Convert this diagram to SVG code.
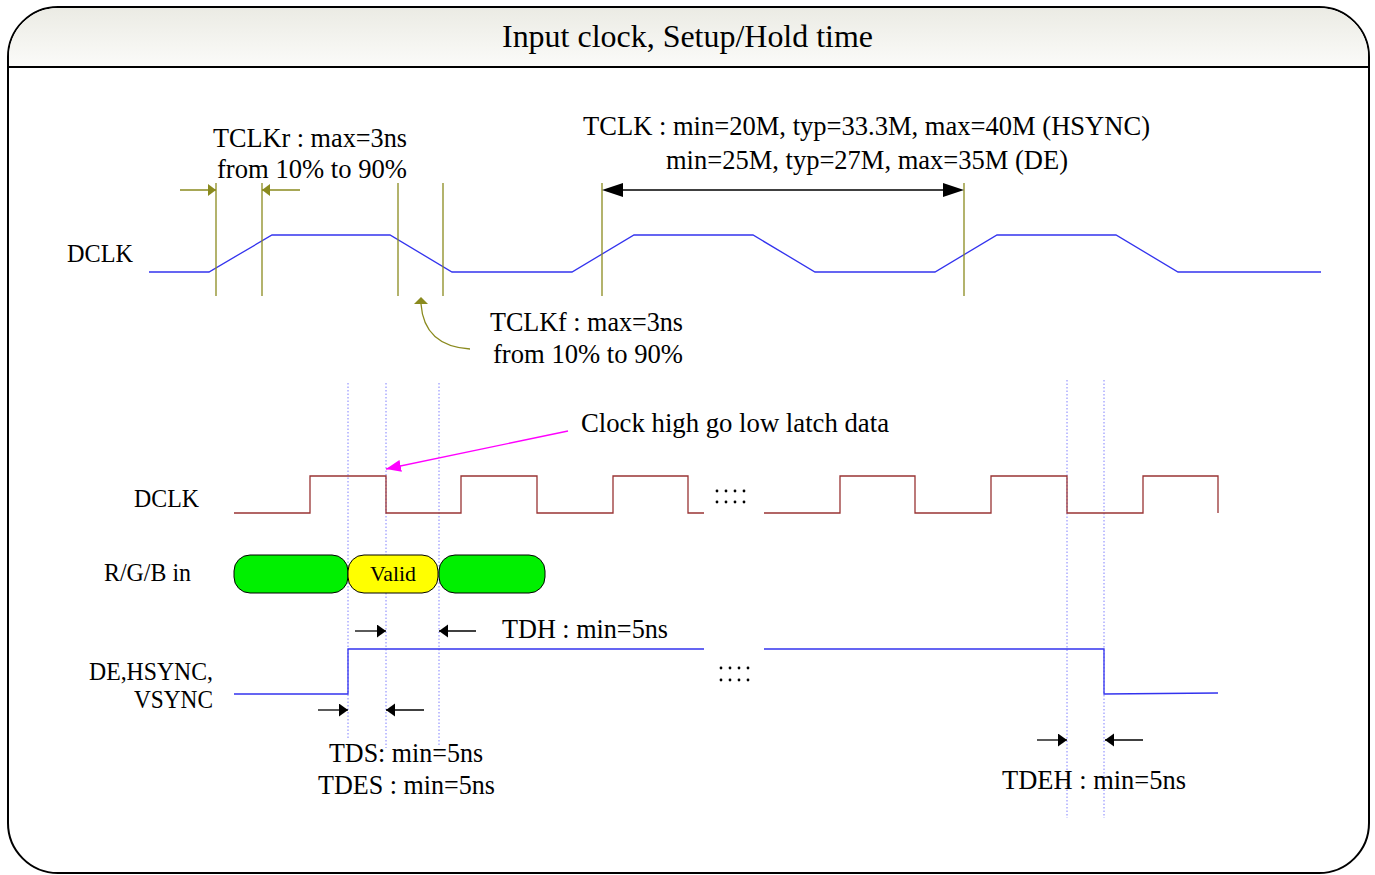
<svg xmlns="http://www.w3.org/2000/svg" width="1375" height="875" viewBox="0 0 1375 875">
<style>
text{font-family:"Liberation Serif","Times New Roman",serif;fill:#000}
.t26{font-size:27.5px}
.t24{font-size:25px}
.olive{stroke:#8a8a1e;stroke-width:1.3;fill:none}
.blue{stroke:#3333ee;stroke-width:1.3;fill:none}
.brown{stroke:#993333;stroke-width:1.3;fill:none}
.dot{stroke:#8080ff;stroke-width:1;stroke-dasharray:1.5 2;fill:none}
.blk{stroke:#000;stroke-width:1.3;fill:none}
</style>
<defs>
<linearGradient id="tb" x1="0" y1="0" x2="0" y2="1">
<stop offset="0" stop-color="#ebebe4"/>
<stop offset="1" stop-color="#fbfbf9"/>
</linearGradient>
<marker id="ah" markerUnits="userSpaceOnUse" markerWidth="10" markerHeight="14" refX="9" refY="6.5" orient="auto">
<path d="M0,0 L9,6.5 L0,13 z" fill="#000"/>
</marker>
<marker id="oh" markerUnits="userSpaceOnUse" markerWidth="9" markerHeight="13" refX="8" refY="6" orient="auto">
<path d="M0,0 L8,6 L0,12 z" fill="#8a8a1e"/>
</marker>
<marker id="mh" markerUnits="userSpaceOnUse" markerWidth="16" markerHeight="13" refX="15" refY="6" orient="auto">
<path d="M0,0 L15,6 L0,12 z" fill="#ff00ff"/>
</marker>
</defs>

<g id="frame">
<rect x="8" y="7" width="1361" height="866" rx="50" ry="50" fill="#fff" stroke="#000" stroke-width="2"/>
<path d="M9,67 V57 A49,49 0 0 1 58,8 H1319 A49,49 0 0 1 1368,57 V67 Z" fill="url(#tb)"/>
<line x1="8" y1="67" x2="1369" y2="67" stroke="#000" stroke-width="2"/>
<text x="502" y="47" font-size="31" textLength="371" lengthAdjust="spacingAndGlyphs">Input clock, Setup/Hold time</text>
</g>

<g id="top-dclk">
<text class="t24" x="67" y="262" textLength="66" lengthAdjust="spacingAndGlyphs">DCLK</text>
<polyline class="blue" points="149,272 209,272 272,235 390,235 452,272 572,272 634,235 753,235 815,272 935,272 997,235 1116,235 1178,272 1321,272"/>
</g>

<g id="connectors">
<g id="olive-marks">
<line class="olive" x1="216" y1="183" x2="216" y2="296"/>
<line class="olive" x1="262" y1="183" x2="262" y2="296"/>
<line class="olive" x1="398" y1="183" x2="398" y2="296"/>
<line class="olive" x1="443" y1="183" x2="443" y2="296"/>
<line class="olive" x1="602" y1="183" x2="602" y2="296"/>
<line class="olive" x1="964" y1="183" x2="964" y2="296"/>
<line class="olive" x1="180" y1="190" x2="216" y2="190" marker-end="url(#oh)"/>
<line class="olive" x1="300" y1="190" x2="262" y2="190" marker-end="url(#oh)"/>
<path class="olive" d="M470,349 Q424,346 421,304"/>
<polygon points="421,297 414,304 428,304" fill="#8a8a1e"/>
</g>
<g id="tclk-arrow">
<line x1="620" y1="190" x2="946" y2="190" stroke="#000" stroke-width="1.3"/>
<polygon points="602,190 623,183 623,197" fill="#000"/>
<polygon points="964,190 943,183 943,197" fill="#000"/>
</g>
<g id="dotted-guides">
<line class="dot" x1="348" y1="383" x2="348" y2="740"/>
<line class="dot" x1="386" y1="383" x2="386" y2="748"/>
<line class="dot" x1="439" y1="383" x2="439" y2="745"/>
<line class="dot" x1="1067" y1="380" x2="1067" y2="818"/>
<line class="dot" x1="1104" y1="380" x2="1104" y2="818"/>
</g>
<g id="latch-arrow">
<line x1="568" y1="431" x2="386" y2="469" stroke="#ff00ff" stroke-width="1.3" marker-end="url(#mh)"/>
</g>
<g id="small-arrows">
<line class="blk" x1="355" y1="631" x2="386" y2="631" marker-end="url(#ah)"/>
<line class="blk" x1="476" y1="631" x2="439" y2="631" marker-end="url(#ah)"/>
<line class="blk" x1="318" y1="710" x2="348" y2="710" marker-end="url(#ah)"/>
<line class="blk" x1="424" y1="710" x2="386" y2="710" marker-end="url(#ah)"/>
<line class="blk" x1="1037" y1="740" x2="1067" y2="740" marker-end="url(#ah)"/>
<line class="blk" x1="1143" y1="740" x2="1105" y2="740" marker-end="url(#ah)"/>
</g>
</g>

<g id="tclkr-label">
<text class="t26" x="213" y="147" textLength="194" lengthAdjust="spacingAndGlyphs">TCLKr : max=3ns</text>
<text class="t26" x="217" y="178" textLength="190" lengthAdjust="spacingAndGlyphs">from 10% to 90%</text>
</g>
<g id="tclkf-label">
<text class="t26" x="490" y="331" textLength="193" lengthAdjust="spacingAndGlyphs">TCLKf : max=3ns</text>
<text class="t26" x="493" y="363" textLength="190" lengthAdjust="spacingAndGlyphs">from 10% to 90%</text>
</g>
<g id="tclk-label">
<text class="t26" x="583" y="135" textLength="567" lengthAdjust="spacingAndGlyphs">TCLK : min=20M, typ=33.3M, max=40M (HSYNC)</text>
<text class="t26" x="666" y="169" textLength="402" lengthAdjust="spacingAndGlyphs">min=25M, typ=27M, max=35M (DE)</text>
</g>

<g id="latch-label">
<text class="t26" x="581" y="432" textLength="308" lengthAdjust="spacingAndGlyphs">Clock high go low latch data</text>
</g>

<g id="bottom-dclk">
<text class="t24" x="134" y="507" textLength="65" lengthAdjust="spacingAndGlyphs">DCLK</text>
<polyline class="brown" points="234,513 310,513 310,476 386,476 386,513 461,513 461,476 537,476 537,513 613,513 613,476 688,476 688,513 704,513"/>
<polyline class="brown" points="764,513 840,513 840,476 915,476 915,513 991,513 991,476 1067,476 1067,513 1143,513 1143,476 1218,476 1218,513"/>
<g fill="#000">
<circle cx="717" cy="491" r="1.4"/><circle cx="726" cy="491" r="1.4"/><circle cx="735" cy="491" r="1.4"/><circle cx="744" cy="491" r="1.4"/>
<circle cx="717" cy="502" r="1.4"/><circle cx="726" cy="502" r="1.4"/><circle cx="735" cy="502" r="1.4"/><circle cx="744" cy="502" r="1.4"/>
</g>
</g>

<g id="rgb-in">
<text class="t24" x="104" y="581" textLength="87" lengthAdjust="spacingAndGlyphs">R/G/B in</text>
<rect x="234" y="555" width="114" height="38" rx="16" ry="16" fill="#00f000" stroke="#000" stroke-width="1"/>
<rect x="348" y="555" width="90" height="38" rx="16" ry="16" fill="#ffff00" stroke="#000" stroke-width="1"/>
<rect x="439" y="555" width="106" height="38" rx="16" ry="16" fill="#00f000" stroke="#000" stroke-width="1"/>
<text x="370" y="581" font-size="22" textLength="46" lengthAdjust="spacingAndGlyphs">Valid</text>
</g>

<g id="de-sync">
<text class="t24" x="89" y="680" textLength="124" lengthAdjust="spacingAndGlyphs">DE,HSYNC,</text>
<text class="t24" x="134" y="708" textLength="79" lengthAdjust="spacingAndGlyphs">VSYNC</text>
<polyline class="blue" points="234,694 348,694 348,649 704,649"/>
<polyline class="blue" points="764,649 1104,649 1104,694 1218,693"/>
<g fill="#000">
<circle cx="721" cy="668" r="1.4"/><circle cx="730" cy="668" r="1.4"/><circle cx="739" cy="668" r="1.4"/><circle cx="748" cy="668" r="1.4"/>
<circle cx="721" cy="680" r="1.4"/><circle cx="730" cy="680" r="1.4"/><circle cx="739" cy="680" r="1.4"/><circle cx="748" cy="680" r="1.4"/>
</g>
</g>

<g id="timing-labels">
<text class="t26" x="502" y="638" textLength="166" lengthAdjust="spacingAndGlyphs">TDH : min=5ns</text>
<text class="t26" x="329" y="762" textLength="154" lengthAdjust="spacingAndGlyphs">TDS: min=5ns</text>
<text class="t26" x="318" y="794" textLength="177" lengthAdjust="spacingAndGlyphs">TDES : min=5ns</text>
<text class="t26" x="1002" y="789" textLength="184" lengthAdjust="spacingAndGlyphs">TDEH : min=5ns</text>
</g>
</svg>
